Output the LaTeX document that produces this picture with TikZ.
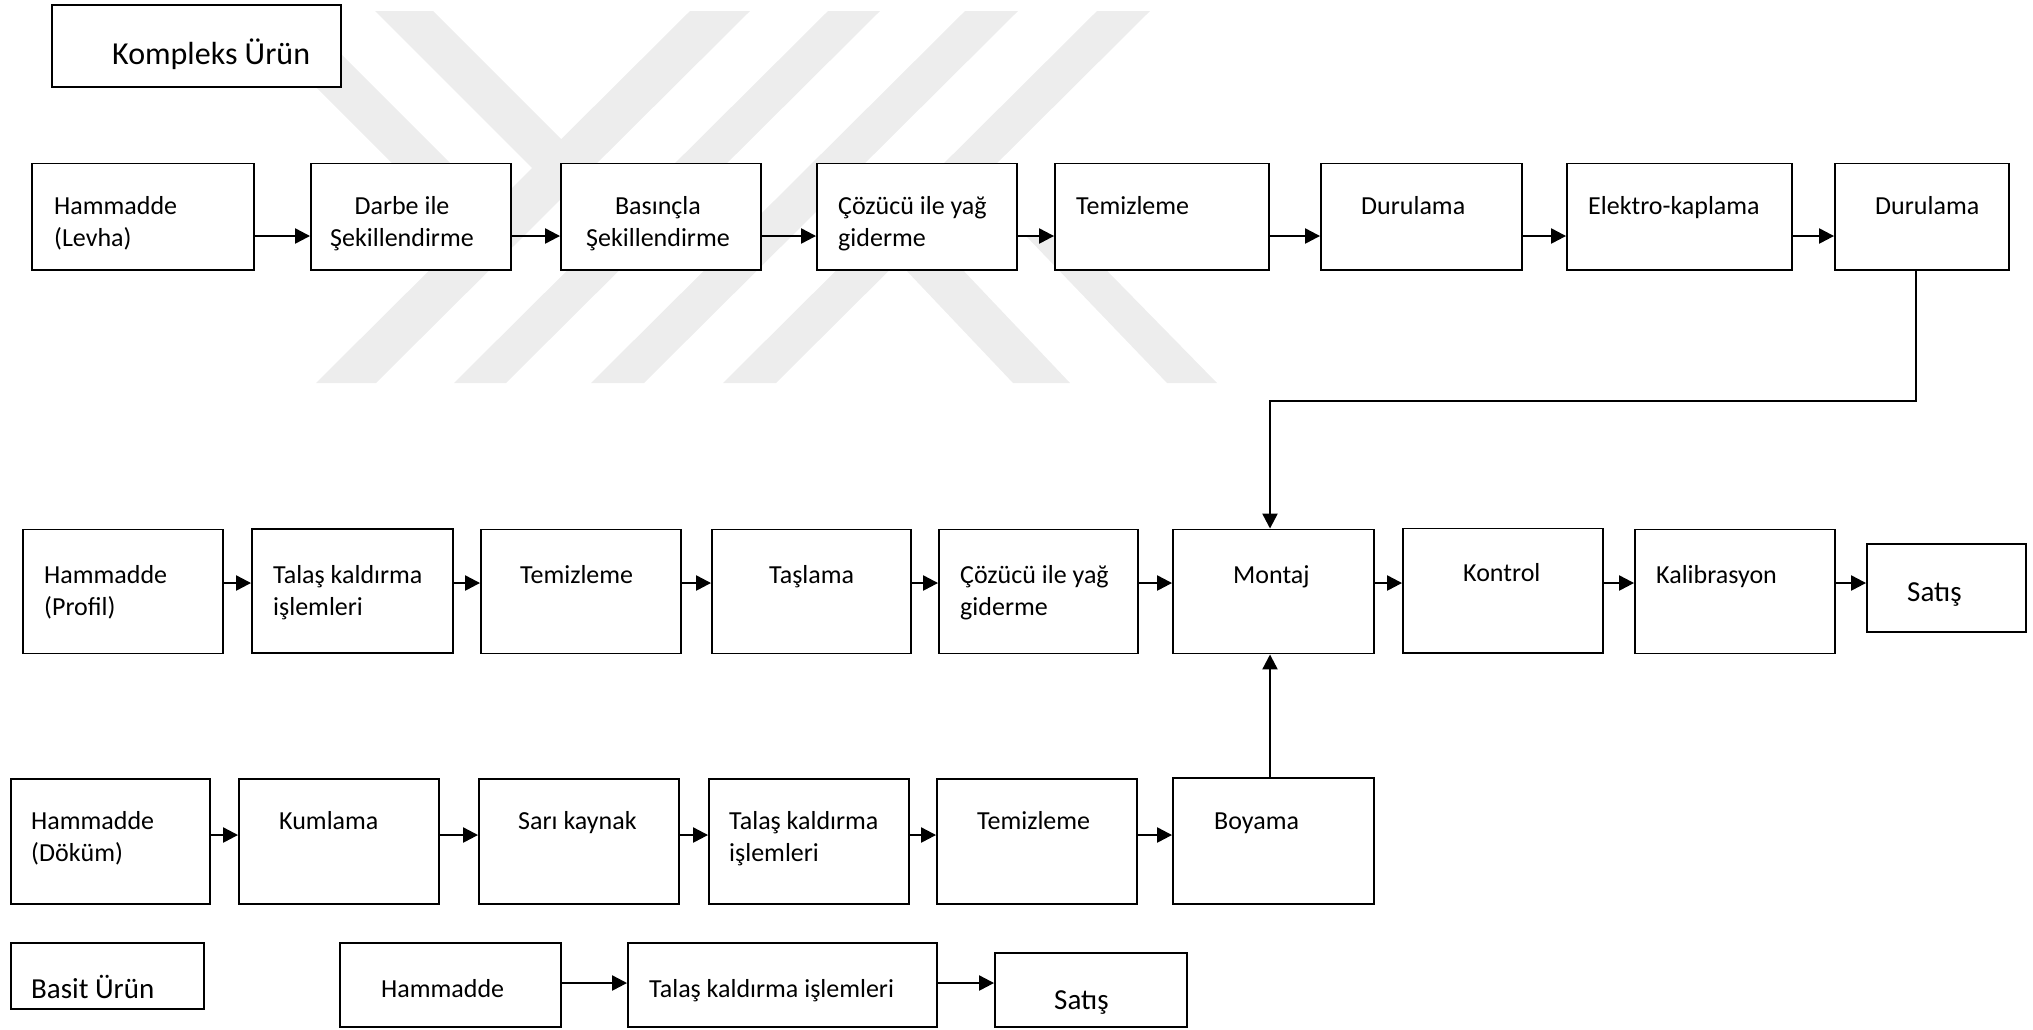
\documentclass[tikz,border=0pt]{standalone}
\usepackage{fontspec}
\setmainfont{Carlito}
\usetikzlibrary{arrows.meta}

\tikzset{
  box/.style={draw, fill=white, line width=1.9pt, inner sep=0pt},
  lbl/.style={anchor=base west, align=left, inner sep=0pt, font=\fontsize{26}{32}\selectfont},
  lblc/.style={lbl, anchor=base, align=center},
  big/.style={font=\fontsize{29}{35}\selectfont},
  flow/.style={line width=2.3pt, -{Triangle[length=15pt,width=15pt]}},
  wm/.style={fill=black!7, draw=none},
}

% box from its corners: name, x1, y1, x2, y2
\newcommand{\procbox}[5]{\node[box, minimum width={(#4-#2)*1pt}, minimum height={(#5-#3)*1pt}] (#1) at ({(#2+#4)/2},{(#3+#5)/2}) {};}

\begin{document}
\begin{tikzpicture}[x=1pt, y=-1pt]
    \useasboundingbox (0,0) rectangle (2033,1029);

    % watermark
    \fill[wm] (240,11) -- (298,11) -- (487,200) -- (429,200) -- cycle;
    \fill[wm] (375,11) -- (433,11) -- (622,200) -- (564,200) -- cycle;
    \fill[wm] (830,190) -- (887,190) -- (1070,383) -- (1013,383) -- cycle;
    \fill[wm] (1025,235) -- (1072,235) -- (1217,383) -- (1167,383) -- cycle;
    \fill[wm] (690,11) -- (750,11) -- (376,383) -- (316,383) -- cycle;
    \fill[wm] (828,11) -- (880,11) -- (506,383) -- (454,383) -- cycle;
    \fill[wm] (965,11) -- (1018,11) -- (644,383) -- (591,383) -- cycle;
    \fill[wm] (1097,11) -- (1150,11) -- (776,383) -- (723,383) -- cycle;

    \procbox{komp}{52}{5}{341}{87}
    \node[lbl, font=\fontsize{32}{38}\selectfont] (kompT) at (112,64) {Kompleks Ürün};

    % levha line
    \procbox{lev}{32}{163.5}{254}{270}
    \procbox{darbe}{311}{163.5}{511}{270}
    \procbox{bas}{561}{163.5}{761}{270}
    \procbox{coz1}{817}{163.5}{1017}{270}
    \procbox{tem1}{1055}{163.5}{1269}{270}
    \procbox{dur1}{1321}{163.5}{1522}{270}
    \procbox{elk}{1567}{163.5}{1792}{270}
    \procbox{dur2}{1835}{163.5}{2009}{270}
    \node[lbl] (levT) at (54,246.5) {Hammadde\\(Levha)};
    \node[lblc] (darbeT) at (402,246.5) {Darbe ile\\Şekillendirme};
    \node[lblc] (basT) at (658,246.5) {Basınçla\\Şekillendirme};
    \node[lbl] (coz1T) at (838,246.5) {Çözücü ile yağ\\giderme};
    \node[lbl] (tem1T) at (1076,214.5) {Temizleme};
    \node[lbl] (dur1T) at (1361,214.5) {Durulama};
    \node[lbl] (elkT) at (1588,214.5) {Elektro-kaplama};
    \node[lbl] (dur2T) at (1875,214.5) {Durulama};

    % profil line
    \procbox{prof}{23}{529.5}{223}{653.5}
    \procbox{tal1}{252}{529}{453}{653}
    \procbox{tem2}{481}{529.5}{681}{653.5}
    \procbox{tas}{712}{529.5}{911}{653.5}
    \procbox{coz2}{939}{529.5}{1138}{653.5}
    \procbox{mon}{1173}{529.5}{1374}{653.5}
    \procbox{kon}{1403}{528.5}{1603}{653}
    \procbox{kal}{1635}{529.5}{1835}{653.5}
    \procbox{sat1}{1867}{544}{2026}{632}
    \node[lbl] (profT) at (44,615) {Hammadde\\(Profil)};
    \node[lbl] (tal1T) at (273,615) {Talaş kaldırma\\işlemleri};
    \node[lbl] (tem2T) at (520,583) {Temizleme};
    \node[lbl] (tasT) at (769,583) {Taşlama};
    \node[lbl] (coz2T) at (960,615) {Çözücü ile yağ\\giderme};
    \node[lbl] (monT) at (1233,583) {Montaj};
    \node[lbl] (konT) at (1463,581) {Kontrol};
    \node[lbl] (kalT) at (1656,583) {Kalibrasyon};
    \node[lbl, big] (sat1T) at (1907,601) {Satış};

    % döküm line
    \procbox{dok}{11}{779}{210}{904}
    \procbox{kum}{239}{779}{439}{904}
    \procbox{sar}{479}{779}{679}{904}
    \procbox{tal2}{709}{779}{909}{904}
    \procbox{tem3}{937}{779}{1137}{904}
    \procbox{boy}{1173}{778}{1374}{904}
    \node[lbl] (dokT) at (31,861.5) {Hammadde\\(Döküm)};
    \node[lbl] (kumT) at (279,829.5) {Kumlama};
    \node[lbl] (sarT) at (518,829.5) {Sarı kaynak};
    \node[lbl] (tal2T) at (729,861.5) {Talaş kaldırma\\işlemleri};
    \node[lbl] (tem3T) at (977,829.5) {Temizleme};
    \node[lbl] (boyT) at (1214,829.5) {Boyama};

    % basit ürün
    \procbox{basit}{11}{943}{204}{1009}
    \procbox{ham}{340}{943}{561}{1027}
    \procbox{tal3}{628}{943}{937}{1027}
    \procbox{sat2}{995}{953}{1187}{1027}
    \node[lbl, big] (basitT) at (31,998) {Basit Ürün};
    \node[lbl] (hamT) at (381,997) {Hammadde};
    \node[lbl] (tal3T) at (649,997) {Talaş kaldırma işlemleri};
    \node[lbl, big] (sat2T) at (1054,1009) {Satış};

    \coordinate (r1) at (0,236);
    \coordinate (r2) at (0,583);
    \coordinate (r3) at (0,835);
    \coordinate (r4) at (0,983);
    \coordinate (turn) at (1916,401);
    \coordinate (mid) at (1270,0);

    \draw[flow] (lev.east |- r1) -- (darbe.west |- r1);
    \draw[flow] (darbe.east |- r1) -- (bas.west |- r1);
    \draw[flow] (bas.east |- r1) -- (coz1.west |- r1);
    \draw[flow] (coz1.east |- r1) -- (tem1.west |- r1);
    \draw[flow] (tem1.east |- r1) -- (dur1.west |- r1);
    \draw[flow] (dur1.east |- r1) -- (elk.west |- r1);
    \draw[flow] (elk.east |- r1) -- (dur2.west |- r1);
    \draw[flow] (dur2.south -| turn) -- (turn) -| (mid |- mon.north);

    \draw[flow] (prof.east |- r2) -- (tal1.west |- r2);
    \draw[flow] (tal1.east |- r2) -- (tem2.west |- r2);
    \draw[flow] (tem2.east |- r2) -- (tas.west |- r2);
    \draw[flow] (tas.east |- r2) -- (coz2.west |- r2);
    \draw[flow] (coz2.east |- r2) -- (mon.west |- r2);
    \draw[flow] (mon.east |- r2) -- (kon.west |- r2);
    \draw[flow] (kon.east |- r2) -- (kal.west |- r2);
    \draw[flow] (kal.east |- r2) -- (sat1.west |- r2);

    \draw[flow] (dok.east |- r3) -- (kum.west |- r3);
    \draw[flow] (kum.east |- r3) -- (sar.west |- r3);
    \draw[flow] (sar.east |- r3) -- (tal2.west |- r3);
    \draw[flow] (tal2.east |- r3) -- (tem3.west |- r3);
    \draw[flow] (tem3.east |- r3) -- (boy.west |- r3);
    \draw[flow] (mid |- boy.north) -- (mid |- mon.south);

    \draw[flow] (ham.east |- r4) -- (tal3.west |- r4);
    \draw[flow] (tal3.east |- r4) -- (sat2.west |- r4);
\end{tikzpicture}
\end{document}
